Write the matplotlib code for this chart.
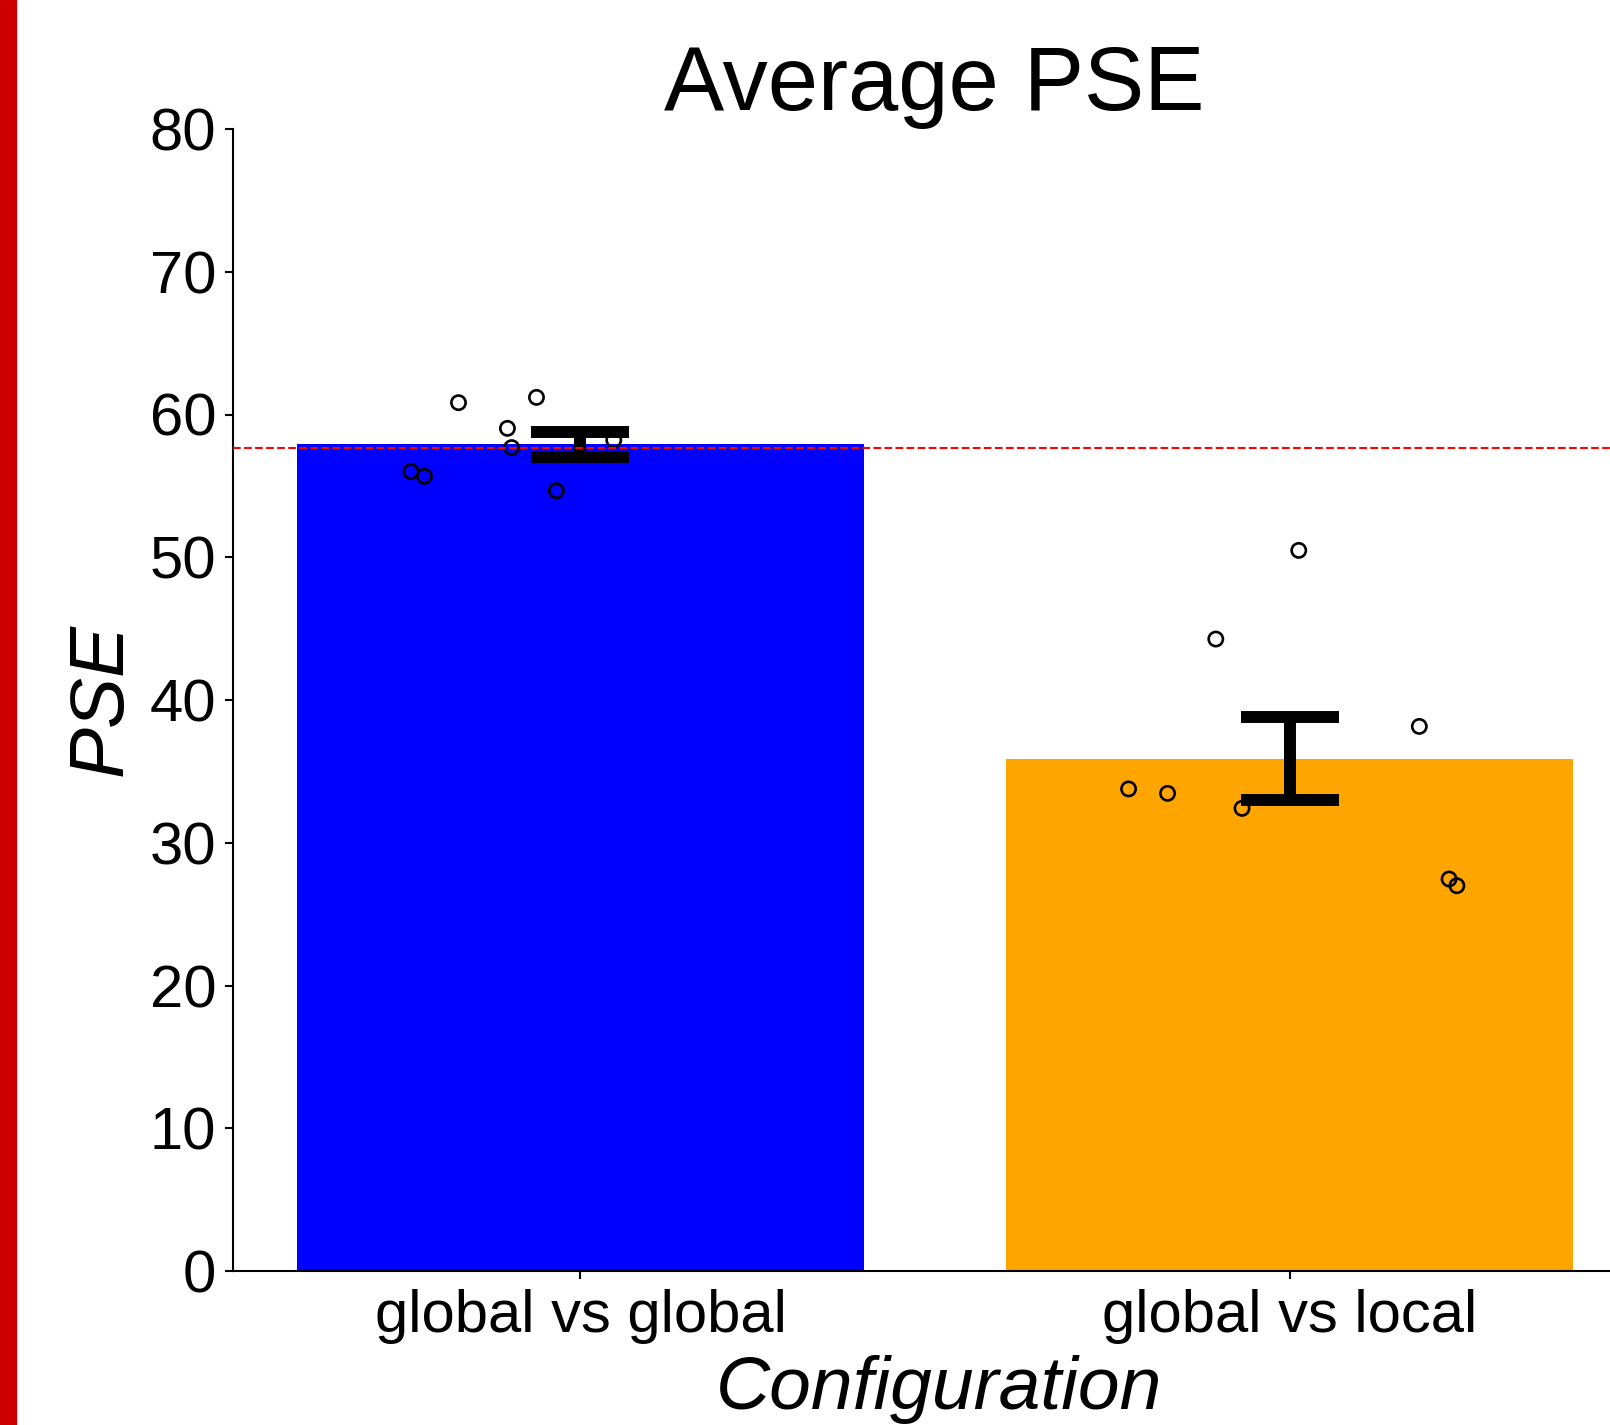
import matplotlib
matplotlib.use("Agg")
import matplotlib.pyplot as plt
from matplotlib.patches import Rectangle

plt.rcParams['font.family'] = ['Liberation Sans', 'DejaVu Sans']

categories = ["global vs global", "global vs local"]
bar_means = [57.9, 35.9]
bar_sems = [0.85, 2.88]
bar_colors = ["blue", "orange"]
reference_line = 57.65

# individual subject points (value, horizontal jitter)
points_gg = [60.83, 61.2, 59.03, 57.68, 56.0, 55.67, 54.66, 58.21]
jitter_gg = [-0.172, -0.062, -0.103, -0.097, -0.239, -0.220, -0.034, 0.047]
points_gl = [50.48, 44.27, 38.15, 33.77, 33.46, 32.41, 27.46, 26.99]
jitter_gl = [0.013, -0.104, 0.183, -0.227, -0.172, -0.067, 0.225, 0.236]

W, H, DPI = 1610, 1425, 100
fig = plt.figure(figsize=(W / DPI, H / DPI), dpi=DPI)
ax = fig.add_axes([233 / W, (H - 1271) / H, (1637 - 233) / W, (1271 - 129) / H])

xs = list(range(len(categories)))
ax.bar(xs, bar_means, width=0.8, color=bar_colors, zorder=1)
for i, (pts, jit) in enumerate([(points_gg, jitter_gg), (points_gl, jitter_gl)]):
    ax.scatter([i + j for j in jit], pts, s=105, facecolors='none',
               edgecolors='black', linewidths=1.9, zorder=3)
ax.errorbar(xs, bar_means, yerr=bar_sems, fmt='none', ecolor='black',
            elinewidth=8.6, capsize=35.5, capthick=8.6, zorder=4)
ax.axhline(reference_line, color='red', linestyle='--', linewidth=1.5, zorder=5)

ax.set_ylim(0, 80)
ax.set_yticks(range(0, 81, 10))
ax.set_xticks(xs)
ax.set_xticklabels(categories)
ax.spines['top'].set_visible(False)
ax.spines['right'].set_visible(False)
for s in ('left', 'bottom'):
    ax.spines[s].set_linewidth(1.5)
ax.tick_params(axis='both', labelsize=43, length=6, width=1.5)
ax.tick_params(axis='y', pad=6)
ax.tick_params(axis='x', pad=6.6)
ax.set_ylabel("PSE", fontsize=55, style='italic')
ax.set_xlabel("Configuration", fontsize=54, style='italic')
ax.yaxis.set_label_coords((138 - 233) / (1637 - 233), 0.5)
ax.xaxis.set_label_coords(0.5 + 4 / (1637 - 233), -(1409 - 1271) / (1271 - 129))
ax.xaxis.label.set_va('baseline')

fig.text(934 / W, 1 - 110 / H, "Average PSE", fontsize=65, ha='center', va='baseline')

fig.patches.append(Rectangle((0, 0), 16 / W, 1, transform=fig.transFigure,
                             color='#cc0000', zorder=10))

fig.savefig("out.png", dpi=DPI)
